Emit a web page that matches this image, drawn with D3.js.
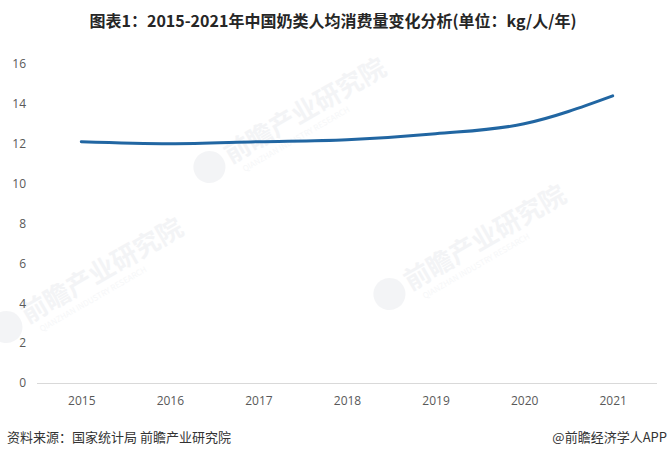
<!DOCTYPE html>
<html>
<head>
<meta charset="utf-8">
<script src="https://cdn.jsdelivr.net/npm/d3@7"></script>
<style>
body{margin:0;background:#fff;}
svg{display:block;font-family:"Noto Sans CJK SC","Noto Sans",sans-serif;}
</style>
</head>
<body>
<div class="chart1"></div>
<script>
// data
var years = ["2015","2016","2017","2018","2019","2020","2021"];
var values = [12.1, 12.0, 12.1, 12.2, 12.5, 13.0, 14.4];
var yTicks = [0,2,4,6,8,10,12,14,16];

var W = 670, H = 457;
var margin = {top: 64, right: 13, bottom: 74, left: 37},
	width = W - margin.left - margin.right,
	height = H - margin.top - margin.bottom;

var svg = d3.select(".chart1").append("svg")
	.attr("width", W)
	.attr("height", H);

// watermarks (faint)
var wm = [[225,158],[405,285],[22,318]];
wm.forEach(function(p){
	var g = svg.append("g")
		.attr("transform","translate("+p[0]+","+p[1]+") rotate(-30)")
		.style("opacity",0.45);
	g.append("circle").attr("cx",-18).attr("cy",0).attr("r",16).attr("fill","#e6e8ec");
	g.append("text").attr("x",2).attr("y",8)
		.style("font-size","26px").style("font-weight","bold").style("fill","#e6e8ec")
		.text("前瞻产业研究院");
	g.append("text").attr("x",10).attr("y",22)
		.style("font-size","8px").style("fill","#eceef1")
		.text("QIANZHAN INDUSTRY RESEARCH");
});

// title
svg.append("text")
	.attr("x", 333).attr("y", 27)
	.attr("text-anchor","middle")
	.style("font-size","16px")
	.style("font-weight","bold")
	.style("fill","#262626")
	.text("图表1：2015-2021年中国奶类人均消费量变化分析(单位：kg/人/年)");

var g = svg.append("g").attr("transform","translate("+margin.left+","+margin.top+")");

var x = d3.scalePoint().domain(years).range([0, width]).padding(0.5);
var y = d3.scaleLinear().domain([0,16]).range([height, 0]);

// y axis labels
g.append("g")
	.call(d3.axisLeft(y).tickValues(yTicks).tickSize(0).tickPadding(11))
	.call(function(s){ s.select(".domain").remove(); })
	.selectAll("text")
	.style("font-size","12px")
	.style("font-family","'Open Sans','Noto Sans',sans-serif")
	.style("fill","#595959");

// x axis
var xa = g.append("g")
	.attr("transform","translate(0,"+height+")")
	.call(d3.axisBottom(x).tickSize(0).tickPadding(13));
xa.select(".domain").attr("stroke","#d9d9d9").attr("d","M0,0.5H"+width);
xa.selectAll("text")
	.style("font-size","12px")
	.style("font-family","'Open Sans','Noto Sans',sans-serif")
	.style("fill","#595959");

// line
var line = d3.line()
	.x(function(d,i){ return x(years[i]); })
	.y(function(d){ return y(d); })
	.curve(d3.curveMonotoneX);
g.append("path")
	.datum(values)
	.attr("fill","none")
	.attr("stroke","#2166a2")
	.attr("stroke-width",3)
	.attr("stroke-linecap","round")
	.attr("d", line);

// footer
svg.append("text")
	.attr("x", 7).attr("y", 442)
	.style("font-size","13px")
	.style("fill","#333")
	.text("资料来源：国家统计局 前瞻产业研究院");
svg.append("text")
	.attr("x", 667).attr("y", 442)
	.attr("text-anchor","end")
	.style("font-size","13px")
	.style("fill","#333")
	.text("@前瞻经济学人APP");
</script>
</body>
</html>
